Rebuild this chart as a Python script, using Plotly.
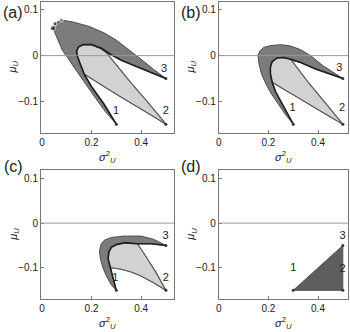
import plotly.graph_objects as go

# corner points 1, 2, 3 (sigma_U^2, mu_U)
corner_x = [0.30, 0.50, 0.50]
corner_y = [-0.15, -0.15, -0.05]
corner_labels = ["1", "2", "3"]

# ---- panel (a) ----
a_outer_x = [0.045, 0.056, 0.078, 0.13, 0.19, 0.25, 0.30, 0.35, 0.40, 0.45, 0.50,
             0.44, 0.38, 0.32, 0.28, 0.262,
             0.30, 0.36, 0.43, 0.50,
             0.44, 0.38, 0.32, 0.26, 0.21, 0.17,
             0.20, 0.25, 0.30,
             0.255, 0.216, 0.176, 0.13, 0.103, 0.083, 0.056, 0.045]
a_outer_y = [0.060, 0.072, 0.078, 0.073, 0.064, 0.050, 0.034, 0.014, -0.008, -0.030, -0.050,
             -0.037, -0.024, -0.010, 0.002, 0.005,
             -0.020, -0.060, -0.104, -0.150,
             -0.130, -0.111, -0.091, -0.071, -0.054, -0.040,
             -0.068, -0.106, -0.150,
             -0.122, -0.093, -0.063, -0.026, -0.004, 0.011, 0.045, 0.060]
a_light_x = [0.17, 0.152, 0.142, 0.140, 0.147, 0.165, 0.20, 0.235, 0.262,
             0.30, 0.36, 0.43, 0.50, 0.44, 0.38, 0.32, 0.26, 0.21, 0.17]
a_light_y = [-0.040, -0.015, 0.0, 0.010, 0.019, 0.024, 0.024, 0.016, 0.005,
             -0.020, -0.060, -0.104, -0.150, -0.130, -0.111, -0.091, -0.071, -0.054, -0.040]
a_c1_x = [0.30, 0.25, 0.20, 0.17, 0.152, 0.142, 0.140, 0.147, 0.165, 0.20, 0.24,
          0.28, 0.32, 0.38, 0.44, 0.50]
a_c1_y = [-0.150, -0.106, -0.068, -0.040, -0.015, 0.0, 0.010, 0.019, 0.024, 0.024, 0.016,
          0.002, -0.010, -0.024, -0.037, -0.050]
a_tip_x = [0.044, 0.052, 0.078]
a_tip_y = [0.060, 0.070, 0.078]

# ---- panel (b) ----
b_outer_x = [0.158, 0.165, 0.18, 0.21, 0.25, 0.29, 0.33, 0.37, 0.42, 0.46, 0.50,
             0.45, 0.39, 0.33, 0.29,
             0.36, 0.43, 0.50,
             0.44, 0.38, 0.32, 0.26, 0.215,
             0.228, 0.25, 0.275, 0.30,
             0.27, 0.24, 0.21, 0.19, 0.172, 0.162, 0.158]
b_outer_y = [0.000, 0.010, 0.018, 0.022, 0.024, 0.021, 0.013, 0.000, -0.022, -0.036, -0.050,
             -0.040, -0.029, -0.015, -0.010,
             -0.058, -0.104, -0.150,
             -0.131, -0.111, -0.092, -0.073, -0.058,
             -0.078, -0.100, -0.125, -0.150,
             -0.130, -0.107, -0.082, -0.062, -0.040, -0.018, 0.000]
b_light_x = [0.215, 0.208, 0.208, 0.215, 0.235, 0.26, 0.29,
             0.36, 0.43, 0.50, 0.44, 0.38, 0.32, 0.26, 0.215]
b_light_y = [-0.058, -0.040, -0.025, -0.013, -0.005, -0.004, -0.008,
             -0.058, -0.104, -0.150, -0.131, -0.111, -0.092, -0.073, -0.058]
b_c1_x = [0.30, 0.275, 0.25, 0.228, 0.215, 0.208, 0.208, 0.215, 0.235, 0.26, 0.29,
          0.33, 0.39, 0.45, 0.50]
b_c1_y = [-0.150, -0.125, -0.100, -0.078, -0.058, -0.040, -0.025, -0.013, -0.005, -0.004,
          -0.008, -0.015, -0.029, -0.040, -0.050]

# ---- panel (c) ----
c_outer_x = [0.232, 0.238, 0.252, 0.28, 0.33, 0.40, 0.45, 0.50,
             0.44, 0.385,
             0.42, 0.46, 0.50,
             0.45, 0.40, 0.36, 0.32, 0.277,
             0.28, 0.29, 0.30,
             0.28, 0.26, 0.245, 0.236, 0.232]
c_outer_y = [-0.062, -0.048, -0.038, -0.032, -0.029, -0.029, -0.036, -0.050,
             -0.046, -0.046,
             -0.075, -0.110, -0.150,
             -0.133, -0.118, -0.109, -0.103, -0.099,
             -0.110, -0.128, -0.150,
             -0.138, -0.118, -0.098, -0.080, -0.062]
c_light_x = [0.277, 0.272, 0.267, 0.270, 0.28, 0.30, 0.333, 0.385,
             0.42, 0.46, 0.50, 0.45, 0.40, 0.36, 0.32, 0.277]
c_light_y = [-0.099, -0.095, -0.080, -0.064, -0.054, -0.048, -0.044, -0.046,
             -0.075, -0.110, -0.150, -0.133, -0.118, -0.109, -0.103, -0.099]
c_c1_x = [0.30, 0.29, 0.28, 0.272, 0.267, 0.270, 0.28, 0.30, 0.333, 0.386, 0.44, 0.50]
c_c1_y = [-0.150, -0.128, -0.110, -0.095, -0.080, -0.064, -0.054, -0.048, -0.044,
          -0.046, -0.046, -0.050]

# ---- panel (d) ----
d_tri_x = [0.30, 0.50, 0.50, 0.30]
d_tri_y = [-0.15, -0.15, -0.05, -0.15]

x_ticks = [0, 0.2, 0.4]
x_tick_text = ["0", "0.2", "0.4"]
y_ticks = [0.1, 0, -0.1]
y_tick_text = ["0.1", "0", "\u22120.1"]
panel_names = ["(a)", "(b)", "(c)", "(d)"]

DARK = "#7c7c7c"
LIGHT = "#d2d2d2"
FONT = "Liberation Sans, Arial, sans-serif"

fig = go.Figure()


def add(ax, x, y, **kw):
    fig.add_trace(go.Scatter(x=x, y=y, xaxis="x" + ax, yaxis="y" + ax,
                             showlegend=False, hoverinfo="skip", **kw))


panels = [
    ("", a_outer_x, a_outer_y, a_light_x, a_light_y, a_c1_x, a_c1_y),
    ("2", b_outer_x, b_outer_y, b_light_x, b_light_y, b_c1_x, b_c1_y),
    ("3", c_outer_x, c_outer_y, c_light_x, c_light_y, c_c1_x, c_c1_y),
]
for ax, ox, oy, lx, ly, cx, cy in panels:
    add(ax, ox, oy, mode="lines", fill="toself", fillcolor=DARK,
        line=dict(color="#4c4c4c", width=1))
    add(ax, lx, ly, mode="lines", fill="toself", fillcolor=LIGHT,
        line=dict(color="#5a5a5a", width=1.2))
    add(ax, cx, cy, mode="lines", line=dict(color="#1e1e1e", width=1.6))

add("", a_tip_x, a_tip_y, mode="markers",
    marker=dict(color=["#111", "#333", "#777"], size=[5, 4, 4]))

add("4", d_tri_x, d_tri_y, mode="lines", fill="toself", fillcolor="#5e5e5e",
    line=dict(color="#555", width=1))

# corner dots and numbers
label_pos = {
    "": ([0.299, 0.500, 0.493], [-0.122, -0.122, -0.030]),
    "2": ([0.297, 0.497, 0.486], [-0.116, -0.116, -0.027]),
    "3": ([0.296, 0.500, 0.499], [-0.122, -0.122, -0.030]),
    "4": ([0.300, 0.499, 0.499], [-0.101, -0.102, -0.030]),
}
for ax, (lx, ly) in label_pos.items():
    add(ax, corner_x, corner_y, mode="markers", marker=dict(color="#333", size=3))
    add(ax, lx, ly, mode="text", text=corner_labels,
        textfont=dict(family=FONT, size=11, color="#222"))

# axes
W, H = 350, 332
cols = [(38.3, 172.7, [-0.004, 0.5336]), (217.7, 348.0, [0.0, 0.521])]
rows = [(1.5, 133.3), (170.0, 299.3)]
yr = [-0.170, 0.1185]
layout = {}
shapes = []
annotations = []


def note(px, py, text, size, **kw):
    annotations.append(dict(x=px / W, y=1 - py / H, xref="paper", yref="paper",
                            xanchor="center", yanchor="middle", text=text,
                            showarrow=False, font=dict(family=FONT, size=size, color="#222"),
                            **kw))


k = 0
for r, (top, bot) in enumerate(rows):
    for c, (left, right, xr) in enumerate(cols):
        k += 1
        sfx = "" if k == 1 else str(k)
        common = dict(showline=True, mirror=True, linecolor="#777", linewidth=1,
                      ticks="inside", ticklen=3, tickcolor="#777",
                      showgrid=False, zeroline=False,
                      tickfont=dict(family=FONT, size=10, color="#222"))
        layout["xaxis" + sfx] = dict(domain=[left / W, right / W], range=xr,
                                     tickvals=x_ticks, ticktext=x_tick_text,
                                     anchor="y" + sfx, **common)
        layout["yaxis" + sfx] = dict(domain=[1 - bot / H, 1 - top / H], range=yr,
                                     tickvals=y_ticks, ticktext=y_tick_text,
                                     anchor="x" + sfx, **common)
        shapes.append(dict(type="line", xref="x" + sfx + " domain", yref="y" + sfx,
                           x0=0, x1=1, y0=0, y1=0, layer="above",
                           line=dict(color="#9a9a9a", width=1)))
        note(left - 28, (top + bot) / 2, "<i>\u03bc</i><sub><i>U</i></sub>", 11, textangle=-90)
        note((left + right) / 2, bot + 24, "<i>\u03c3</i><sup>2</sup><sub><i>U</i></sub>", 11)
        note(left - 28, top + 11 if r == 0 else top - 4, panel_names[k - 1], 16)

fig.update_layout(width=W, height=H, margin=dict(l=0, r=0, t=0, b=0),
                  paper_bgcolor="white", plot_bgcolor="white",
                  shapes=shapes, annotations=annotations, **layout)

fig.write_html("out.html", config={"displayModeBar": False},
               post_script="document.body.style.margin='0px';")
